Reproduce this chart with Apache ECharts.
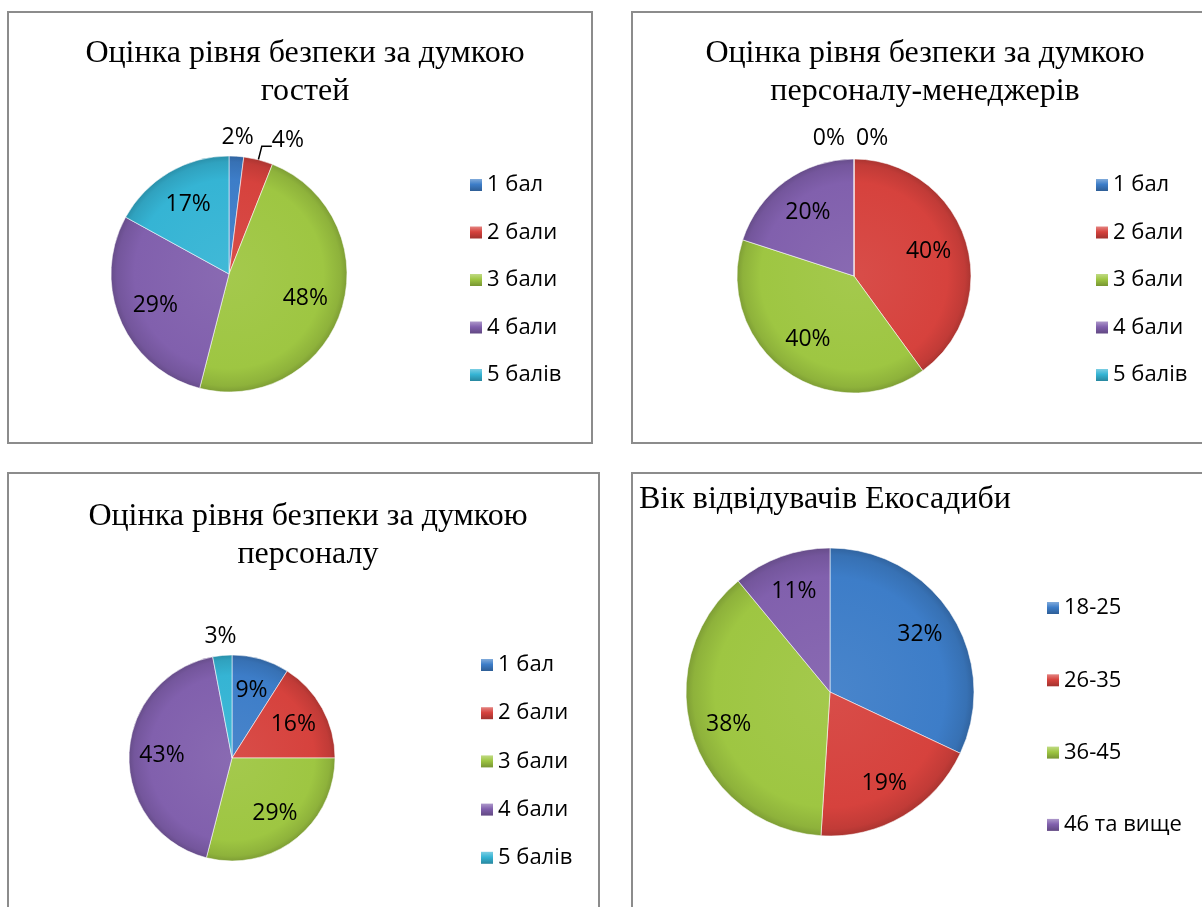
<!DOCTYPE html>
<html>
<head>
<meta charset="utf-8">
<script src="https://cdn.jsdelivr.net/npm/echarts@6/dist/echarts.min.js"></script>
<style>
  html, body { margin: 0; padding: 0; background: #ffffff; }
  #chart { width: 1202px; height: 907px; }
</style>
</head>
<body>
<div id="chart"></div>
<script>
// ---- data ----
const scoreCategories = ['1 бал', '2 бали', '3 бали', '4 бали', '5 балів'];
const guestsValues = [2, 4, 48, 29, 17];
const managersValues = [0, 40, 40, 20, 0];
const staffValues = [9, 16, 29, 43, 3];
const ageCategories = ['18-25', '26-35', '36-45', '46 та вище'];
const ageValues = [32, 19, 38, 11];

const guestsTitle = 'Оцінка рівня безпеки за думкою\nгостей';
const managersTitle = 'Оцінка рівня безпеки за думкою\nперсоналу-менеджерів';
const staffTitle = 'Оцінка рівня безпеки за думкою\nперсоналу';
const ageTitle = 'Вік відвідувачів Екосадиби';

// ---- styling ----
const palette = ['#3d7dc8', '#d6423d', '#9ec642', '#8160ad', '#35b4d4'];
const serif = '"Liberation Serif", "Times New Roman", serif';
const sans = '"Open Sans", "Noto Sans", sans-serif';
const labelSize = 23;
const legendSize = 22;

function shade(hex, k) {
  const n = parseInt(hex.slice(1), 16);
  let r = (n >> 16) & 255, g = (n >> 8) & 255, b = n & 255;
  const f = c => Math.round(k >= 0 ? c + (255 - c) * k : c * (1 + k));
  return 'rgb(' + f(r) + ',' + f(g) + ',' + f(b) + ')';
}

// bevel-like shading of a whole pie, in page coordinates
function sliceFill(color, cx, cy, R) {
  return {
    type: 'radial', x: cx, y: cy, r: R, global: true,
    colorStops: [
      { offset: 0, color: shade(color, 0.06) },
      { offset: 0.8, color: color },
      { offset: 0.95, color: shade(color, -0.1) },
      { offset: 1, color: shade(color, -0.2) }
    ]
  };
}

function iconFill(color) {
  return {
    type: 'linear', x: 0, y: 0, x2: 0, y2: 1,
    colorStops: [
      { offset: 0, color: shade(color, 0.35) },
      { offset: 0.45, color: color },
      { offset: 1, color: shade(color, -0.25) }
    ]
  };
}

const pct = p => p.value + '%';

// builds the pie itself plus two invisible rings that only carry labels:
// an inner ring for labels inside slices, an outer ring for labels just past the rim
function buildPie(names, values, cfg) {
  const { cx, cy, R, ratio, outer = [], leader = [], edge = [] } = cfg;
  const r0 = 2 * (ratio * R - 3) - R;
  const isInner = n => !outer.includes(n) && !leader.includes(n) && !edge.includes(n);

  const main = {
    type: 'pie', center: [cx, cy], radius: [0, R],
    startAngle: 90, clockwise: true, avoidLabelOverlap: false, silent: true,
    itemStyle: { borderColor: 'rgba(255,255,255,0.55)', borderWidth: 1 },
    label: { show: false }, labelLine: { show: false },
    data: names.map((n, i) => {
      const item = { name: n, value: values[i], itemStyle: { color: sliceFill(palette[i], cx, cy, R) } };
      if (leader.includes(n)) {
        item.label = { show: true, position: 'outside', formatter: pct, fontFamily: sans, fontSize: labelSize,
          color: '#000', distanceToLabelLine: 0 };
        item.labelLine = { show: true, length: 14, length2: 10, lineStyle: { color: '#000', width: 1.5 } };
      } else if (edge.includes(n)) {
        item.label = { show: true, position: 'outside', formatter: pct, fontFamily: sans, fontSize: labelSize,
          color: '#000', distanceToLabelLine: 4 };
        item.labelLine = { show: false, length: 21, length2: 0 };
      }
      return item;
    })
  };
  if (edge.length) {
    // two labels meeting at the top: spread them to either side of the rim point
    const firstEdge = names.indexOf(edge[0]);
    main.labelLayout = p => (p.dataIndex === firstEdge ? { dx: p.labelRect.width + 6 } : { dx: -5 });
  } else if (leader.length) {
    // the leader-line label sits a little above the end of its line
    const lead = names.indexOf(leader[0]);
    main.labelLayout = p => (p.dataIndex === lead ? { dy: -6 } : {});
  }

  const ring = (radius, pick) => ({
    type: 'pie', center: [cx, cy], radius: radius,
    startAngle: 90, clockwise: true, avoidLabelOverlap: false, silent: true,
    itemStyle: { color: 'transparent', borderWidth: 0 },
    emphasis: { disabled: true },
    label: { show: true, position: 'inside', formatter: pct, fontFamily: sans, fontSize: labelSize, color: '#000' },
    labelLine: { show: false },
    data: names.map((n, i) => ({ name: n, value: values[i], label: { show: pick(n) } }))
  });

  return {
    main: main,
    rings: [
      ring([r0, R], isInner),
      ring([R, R + 32], n => outer.includes(n))
    ]
  };
}

const pies = [
  buildPie(scoreCategories, guestsValues, { cx: 229, cy: 274, R: 118, ratio: 0.68, outer: ['1 бал'], leader: ['2 бали'] }),
  buildPie(scoreCategories, managersValues, { cx: 854, cy: 276, R: 117, ratio: 0.67, edge: ['1 бал', '5 балів'] }),
  buildPie(scoreCategories, staffValues, { cx: 232, cy: 758, R: 103, ratio: 0.68, outer: ['5 балів'] }),
  buildPie(ageCategories, ageValues, { cx: 830, cy: 692, R: 144, ratio: 0.74 })
];

const series = pies.map(p => p.main).concat(...pies.map(p => p.rings));

function legend(names, left, top, gap) {
  return {
    orient: 'vertical', left: left, top: top, itemGap: gap,
    itemWidth: 12, itemHeight: 12, icon: 'rect', selectedMode: false,
    textStyle: { fontFamily: sans, fontSize: legendSize, color: '#000', lineHeight: 22 },
    data: names.map((n, i) => ({ name: n, itemStyle: { color: iconFill(palette[i]), borderWidth: 0 } }))
  };
}

const titleStyle = { fontFamily: serif, fontSize: 32, fontWeight: 'normal', color: '#000', lineHeight: 38 };

function title(text, left, top, align) {
  return { text: text, left: left, top: top, textAlign: align, textStyle: titleStyle };
}

const frame = (x, y, w, h) => ({
  type: 'rect', shape: { x: x, y: y, width: w, height: h }, silent: true,
  style: { fill: 'none', stroke: '#8c8c8c', lineWidth: 2 }
});

const chart = echarts.init(document.getElementById('chart'), null, { renderer: 'canvas' });
chart.setOption({
  backgroundColor: '#ffffff',
  animation: false,
  graphic: [
    frame(8, 12, 584, 431),
    frame(632, 12, 600, 431),
    frame(8, 473, 591, 460),
    frame(632, 473, 600, 460)
  ],
  title: [
    title(guestsTitle, 300, 30, 'center'),
    title(managersTitle, 920, 30, 'center'),
    title(staffTitle, 303, 493, 'center'),
    { text: ageTitle, left: 634, top: 476, textStyle: titleStyle }
  ],
  legend: [
    legend(scoreCategories, 465, 169, 25.5),
    legend(scoreCategories, 1091, 169, 25.5),
    legend(scoreCategories, 476, 649, 26.2),
    legend(ageCategories, 1042, 592, 50.3)
  ],
  series: series
});
</script>
</body>
</html>
